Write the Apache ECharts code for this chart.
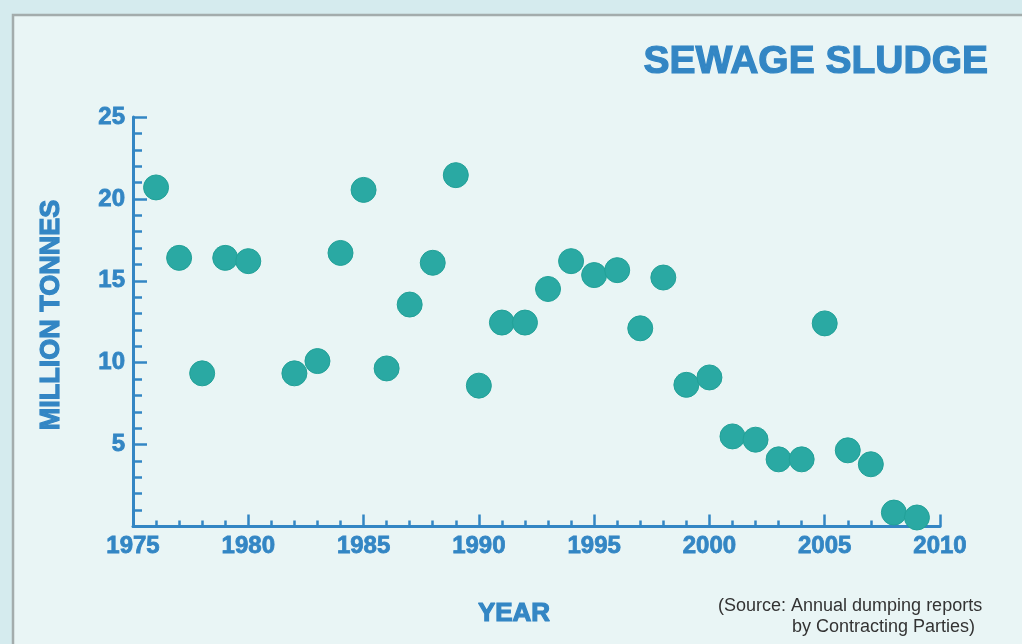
<!DOCTYPE html>
<html>
<head>
<meta charset="utf-8">
<script src="https://cdn.jsdelivr.net/npm/echarts@6/dist/echarts.min.js"></script>
<style>
html,body{margin:0;padding:0;background:#d5ebee;}
#chart{width:1022px;height:644px;}
</style>
</head>
<body>
<div id="chart"></div>
<script>
// Data
const years = [1976,1977,1978,1979,1980,1982,1983,1984,1985,1986,1987,1988,1989,1990,1991,1992,1993,1994,1995,1996,1997,1998,1999,2000,2001,2002,2003,2004,2005,2006,2007,2008,2009];
const sludge = [20.7,16.4,9.35,16.4,16.2,9.35,10.1,16.7,20.55,9.65,13.55,16.1,21.45,8.6,12.45,12.45,14.5,16.2,15.35,15.65,12.1,15.2,8.65,9.1,5.5,5.3,4.1,4.1,12.4,4.65,3.8,0.85,0.55];
const xTickLabels = ['1975','1980','1985','1990','1995','2000','2005','2010'];
const yTickLabels = ['5','10','15','20','25'];
const titleText = 'SEWAGE SLUDGE';
const xName = 'YEAR';
const yName = 'MILLION TONNES';
const sourceLines = ['(Source: Annual dumping reports', 'by Contracting Parties)'];

const BLUE = '#3386c4';
const FONT = '"Liberation Sans", Arial, Helvetica, sans-serif';

const chart = echarts.init(document.getElementById('chart'));
const points = years.map((y, i) => [y, sludge[i]]);

function boldText(text, x, y, size, align, extra) {
  return Object.assign({
    type:'text', x:x, y:y, z:10,
    style:{text:text, fill:BLUE, fontFamily:FONT, fontWeight:'bold', fontSize:size,
      stroke:BLUE, lineWidth:1.2, align:align, verticalAlign:'middle'}
  }, extra || {});
}

chart.setOption({
  backgroundColor: '#d5ebee',
  animation: false,
  graphic: [
    {type:'rect', z:-10, shape:{x:13, y:15, width:1100, height:700},
     style:{fill:'#e9f5f5', stroke:'#a3acac', lineWidth:2.5}},
    boldText(titleText, 988, 62.5, 39, 'right'),
    boldText(xName, 514, 614, 26, 'center'),
    boldText(yName, 52, 315, 27, 'center', {rotation:Math.PI/2}),
    {type:'text', x:718, y:606, z:10,
     style:{text:sourceLines[0], fill:'#333333', fontFamily:FONT, fontSize:18, align:'left', verticalAlign:'middle'}},
    {type:'text', x:792, y:627, z:10,
     style:{text:sourceLines[1], fill:'#333333', fontFamily:FONT, fontSize:18, align:'left', verticalAlign:'middle'}}
  ],
  grid: {left:133, top:117, right:82, bottom:117.5},
  xAxis: {
    type:'value', min:1975, max:2010, interval:5,
    axisLine:{show:true, onZero:false, lineStyle:{color:BLUE, width:3}},
    axisTick:{show:true, inside:true, length:12, lineStyle:{color:BLUE, width:2.5}},
    minorTick:{show:true, splitNumber:5, length:6, lineStyle:{color:BLUE, width:2.5}},
    splitLine:{show:false},
    axisLabel:{show:true, margin:8, color:BLUE, fontFamily:FONT, fontWeight:'bold', fontSize:24,
      textBorderColor:BLUE, textBorderWidth:0.8,
      showMinLabel:true, showMaxLabel:true,
      formatter: v => { const s = String(v); return xTickLabels.includes(s) ? s : ''; }}
  },
  yAxis: {
    type:'value', min:0, max:25, interval:5,
    axisLine:{show:true, onZero:false, lineStyle:{color:BLUE, width:3}},
    axisTick:{show:true, inside:true, length:14, lineStyle:{color:BLUE, width:2.5}},
    minorTick:{show:true, splitNumber:5, length:9, lineStyle:{color:BLUE, width:2.5}},
    splitLine:{show:false},
    axisLabel:{show:true, margin:8, color:BLUE, fontFamily:FONT, fontWeight:'bold', fontSize:24,
      textBorderColor:BLUE, textBorderWidth:0.8,
      formatter: v => { const s = String(v); return yTickLabels.includes(s) ? s : ''; }}
  },
  series: [{
    type:'scatter', data:points, symbol:'circle', symbolSize:25,
    itemStyle:{color:'#2aa9a3', borderColor:'#22a198', borderWidth:1, opacity:1}
  }]
});
</script>
</body>
</html>
